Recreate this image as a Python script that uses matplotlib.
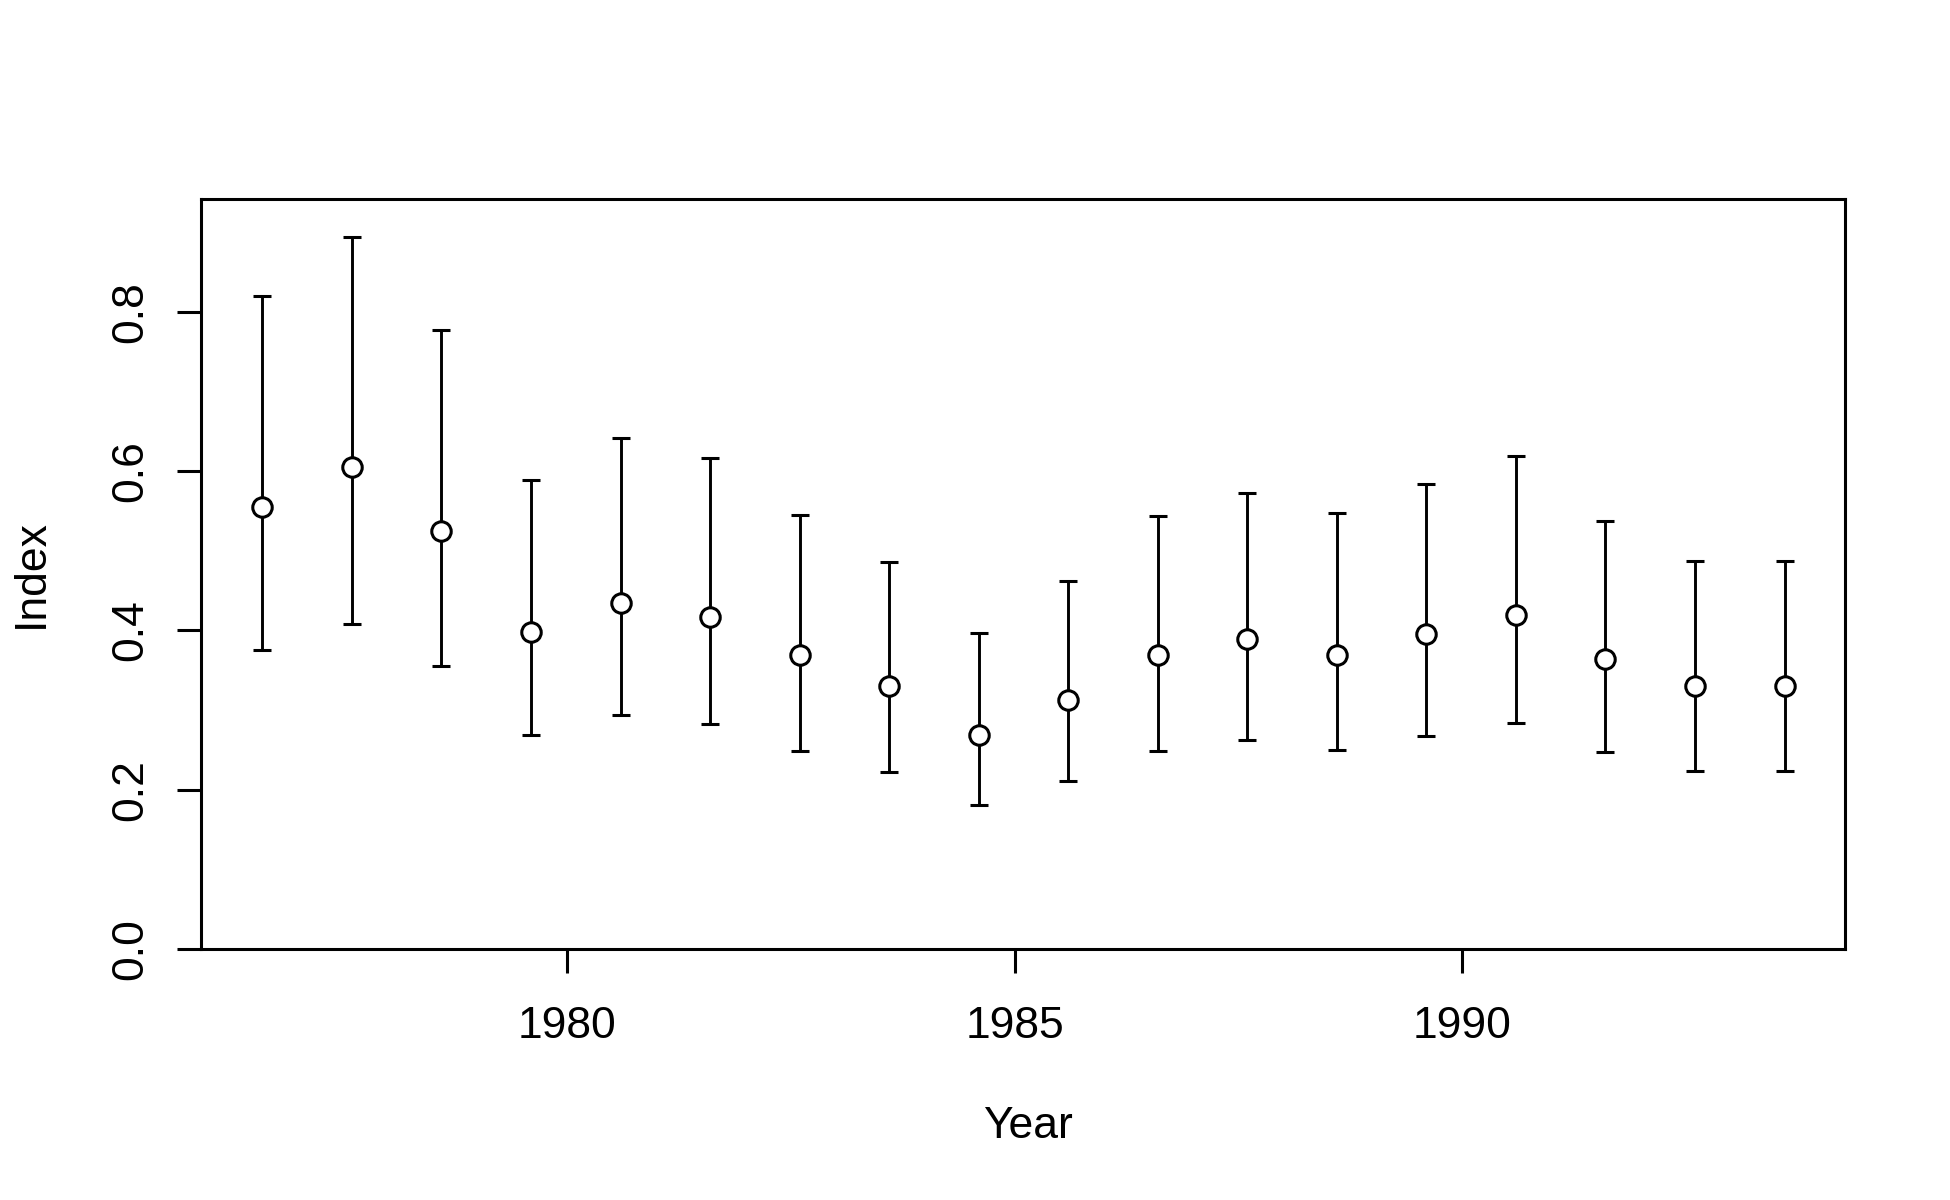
import matplotlib
matplotlib.use("Agg")
import matplotlib.pyplot as plt
import numpy as np

years = [1976.6, 1977.6, 1978.6, 1979.6, 1980.6, 1981.6, 1982.6, 1983.6, 1984.6,
         1985.6, 1986.6, 1987.6, 1988.6, 1989.6, 1990.6, 1991.6, 1992.6, 1993.6]
index = [0.555, 0.605, 0.525, 0.398, 0.434, 0.417, 0.369, 0.330, 0.269,
         0.3125, 0.369, 0.389, 0.369, 0.395, 0.419, 0.364, 0.330, 0.330]
upper = [0.820, 0.894, 0.777, 0.589, 0.642, 0.616, 0.545, 0.486, 0.397,
         0.4625, 0.544, 0.573, 0.547, 0.584, 0.619, 0.5375, 0.4875, 0.4875]
lower = [0.375, 0.408, 0.355, 0.269, 0.294, 0.283, 0.248, 0.222, 0.181,
         0.211, 0.248, 0.2625, 0.250, 0.267, 0.284, 0.247, 0.223, 0.223]
xticks = [1980, 1985, 1990]
yticks = [0.0, 0.2, 0.4, 0.6, 0.8]
ytick_labels = ["0.0", "0.2", "0.4", "0.6", "0.8"]

plt.rcParams['font.family'] = ['Liberation Sans', 'DejaVu Sans']

fig = plt.figure(figsize=(19.5, 12), dpi=100)
ax = fig.add_axes([0.1033, 0.2093, 0.8431, 0.6249])

y = np.array(index)
yerr = [y - np.array(lower), np.array(upper) - y]
ax.errorbar(years, index, yerr=yerr, fmt='o', color='black', ecolor='black',
            elinewidth=2.1, capsize=6.8, capthick=2.1,
            markerfacecolor='white', markeredgecolor='black',
            markersize=14, markeredgewidth=2.2, zorder=3)

ax.set_xlim(1975.92, 1994.28)
ax.set_ylim(0, 0.942)
ax.set_xticks(xticks)
ax.set_xticklabels([str(t) for t in xticks])
ax.set_yticks(yticks)
ax.set_yticklabels(ytick_labels, rotation=90, va='center')

for s in ax.spines.values():
    s.set_linewidth(2.2)
ax.tick_params(axis='both', length=17, width=2.2, labelsize=32)
ax.tick_params(axis='x', pad=24)
ax.tick_params(axis='y', pad=19)

fig.text(0.527, 0.0610, 'Year', ha='center', va='center', fontsize=32)
fig.text(0.016, 0.522, 'Index', ha='center', va='center', rotation=90, fontsize=32)

fig.savefig('out.png', dpi=100, facecolor='white')
